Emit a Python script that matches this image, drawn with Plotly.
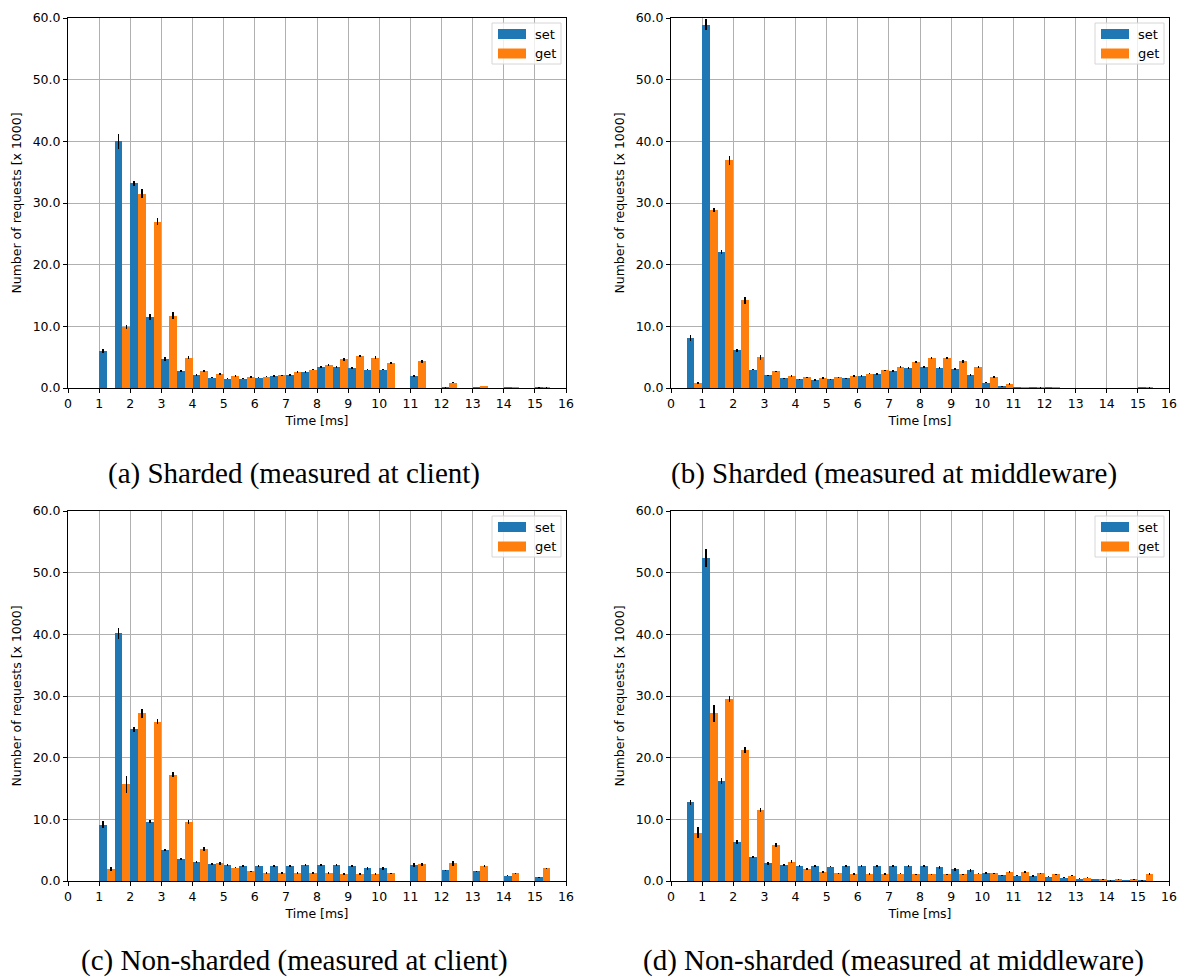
import plotly.graph_objects as go

# Histogram bin starts (0.5 ms bins from 0 to 16 ms)
bin_starts = [i * 0.5 for i in range(32)]
bin_width = 0.5

# Request counts per bin [x 1000] and their standard deviations
a_set = [0, 0, 6.0, 40.0, 33.2, 11.5, 4.7, 2.8, 2.1, 1.7, 1.5, 1.5, 1.7, 1.95, 2.05, 2.6,
         3.4, 3.4, 3.3, 3.0, 3.0, 0, 2.0, 0, 0.05, 0, 0.03, 0, 0.05, 0, 0.1, 0]
a_get = [0, 0, 0, 9.9, 31.5, 27.0, 11.7, 4.9, 2.8, 2.3, 1.95, 1.8, 1.85, 2.05, 2.6, 3.0,
         3.7, 4.65, 5.2, 4.9, 4.1, 0, 4.3, 0, 0.85, 0, 0.3, 0, 0.15, 0, 0.1, 0]
a_set_err = [0, 0, 0.4, 1.2, 0.4, 0.45, 0.25, 0.15, 0.2, 0.1, 0.1, 0.1, 0.1, 0.15, 0.15, 0.15,
             0.2, 0.2, 0.15, 0.1, 0.1, 0, 0.15, 0, 0.05, 0, 0, 0, 0, 0, 0.05, 0]
a_get_err = [0, 0, 0, 0.3, 0.7, 0.6, 0.55, 0.25, 0.15, 0.15, 0.1, 0.1, 0.1, 0.1, 0.1, 0.1,
             0.15, 0.2, 0.15, 0.25, 0.15, 0, 0.2, 0, 0.1, 0, 0.05, 0, 0.05, 0, 0.05, 0]

b_set = [0, 8.1, 58.9, 22.0, 6.1, 3.0, 2.05, 1.6, 1.4, 1.3, 1.4, 1.6, 1.95, 2.3, 2.75, 3.25,
         3.4, 3.25, 3.1, 2.1, 0.85, 0.25, 0.05, 0.02, 0.02, 0, 0, 0, 0, 0, 0.03, 0]
b_get = [0, 0.8, 28.9, 36.9, 14.2, 5.0, 2.7, 1.95, 1.75, 1.6, 1.75, 1.95, 2.3, 2.9, 3.4, 4.2,
         4.9, 4.9, 4.3, 3.4, 1.8, 0.65, 0.15, 0.1, 0.02, 0, 0, 0, 0, 0, 0.1, 0]
b_set_err = [0, 0.5, 0.9, 0.35, 0.3, 0.1, 0.1, 0.1, 0.1, 0.1, 0.1, 0.1, 0.1, 0.15, 0.2, 0.15,
             0.15, 0.15, 0.1, 0.1, 0.1, 0.05, 0.02, 0, 0, 0, 0, 0, 0, 0, 0.02, 0]
b_get_err = [0, 0.2, 0.35, 0.8, 0.6, 0.4, 0.1, 0.15, 0.1, 0.2, 0.1, 0.1, 0.1, 0.1, 0.1, 0.1,
             0.15, 0.15, 0.2, 0.2, 0.1, 0.1, 0.05, 0.05, 0, 0, 0, 0, 0, 0, 0.05, 0]

c_set = [0, 0, 9.1, 40.2, 24.6, 9.6, 5.0, 3.6, 3.1, 2.75, 2.6, 2.45, 2.45, 2.45, 2.45, 2.6,
         2.6, 2.55, 2.45, 2.05, 2.05, 0, 2.55, 0, 1.75, 0, 1.55, 0, 0.85, 0, 0.6, 0]
c_get = [0, 0, 1.95, 15.7, 27.2, 25.8, 17.2, 9.6, 5.2, 2.9, 2.15, 1.6, 1.3, 1.3, 1.3, 1.3,
         1.3, 1.15, 1.15, 1.15, 1.25, 0, 2.7, 0, 2.9, 0, 2.4, 0, 1.25, 0, 2.05, 0]
c_set_err = [0, 0, 0.55, 0.9, 0.4, 0.25, 0.2, 0.2, 0.15, 0.15, 0.15, 0.15, 0.1, 0.1, 0.1, 0.15,
             0.15, 0.15, 0.1, 0.25, 0.25, 0, 0.3, 0, 0.1, 0, 0.1, 0, 0.1, 0, 0.05, 0]
c_get_err = [0, 0, 0.35, 1.35, 0.7, 0.4, 0.4, 0.35, 0.35, 0.25, 0.1, 0.1, 0.1, 0.1, 0.1, 0.1,
             0.1, 0.1, 0.1, 0.1, 0.1, 0, 0.3, 0, 0.4, 0, 0.15, 0, 0.1, 0, 0.1, 0]

d_set = [0, 12.8, 52.4, 16.2, 6.3, 3.9, 2.9, 2.65, 2.45, 2.45, 2.3, 2.45, 2.45, 2.45, 2.45, 2.4,
         2.4, 2.2, 1.9, 1.75, 1.25, 0.9, 0.85, 0.8, 0.7, 0.55, 0.4, 0.3, 0.1, 0.02, 0.1, 0]
d_get = [0, 7.8, 27.2, 29.5, 21.2, 11.5, 5.85, 3.1, 1.95, 1.45, 1.25, 1.15, 1.15, 1.15, 1.2, 1.1,
         1.1, 1.1, 1.1, 1.2, 1.25, 1.4, 1.4, 1.25, 1.1, 0.85, 0.55, 0.25, 0.25, 0.25, 1.1, 0]
d_set_err = [0, 0.4, 1.5, 0.5, 0.3, 0.2, 0.25, 0.15, 0.15, 0.1, 0.1, 0.1, 0.1, 0.1, 0.1, 0.15,
             0.15, 0.2, 0.25, 0.25, 0.15, 0.1, 0.1, 0.1, 0.1, 0.1, 0.05, 0.05, 0.05, 0, 0.05, 0]
d_get_err = [0, 0.9, 1.35, 0.45, 0.45, 0.35, 0.3, 0.25, 0.15, 0.1, 0.1, 0.1, 0.1, 0.1, 0.1, 0.1,
             0.1, 0.1, 0.1, 0.1, 0.1, 0.15, 0.15, 0.1, 0.1, 0.1, 0.05, 0.05, 0.05, 0.05, 0.15, 0]

captions = [
    "(a) Sharded (measured at client)",
    "(b) Sharded (measured at middleware)",
    "(c) Non-sharded (measured at client)",
    "(d) Non-sharded (measured at middleware)",
]
series_names = ["set", "get"]
x_ticks = list(range(17))
y_ticks = [0, 10, 20, 30, 40, 50, 60]

BLUE = "#1f77b4"
ORANGE = "#ff7f0e"
W, H = 1178, 979

panels = [
    (a_set, a_get, a_set_err, a_get_err),
    (b_set, b_get, b_set_err, b_get_err),
    (c_set, c_get, c_set_err, c_get_err),
    (d_set, d_get, d_set_err, d_get_err),
]

# axes boxes in pixels: (left, right, top, bottom)
boxes = [(68, 566, 18, 388), (671, 1169, 18, 388), (68, 566, 511, 881), (671, 1169, 511, 881)]
# caption anchor points (center x, bottom of text box y)
caption_pos = [(294, 492), (894, 492), (294, 979), (894, 979)]


def px(xp):
    return xp / W


def py(yp):
    return 1 - yp / H


fig = go.Figure()
shapes = []
annotations = []
tick_font = dict(family="DejaVu Sans", size=12.5, color="black")
label_font = dict(family="DejaVu Sans", size=12.5, color="black")

for i, ((s, g, se, ge), (l, r, t, b)) in enumerate(zip(panels, boxes)):
    n = i + 1
    xa = "x" if n == 1 else f"x{n}"
    ya = "y" if n == 1 else f"y{n}"
    bw = bin_width / 2
    fig.add_trace(go.Bar(
        x=[x0 + bw / 2 for x0 in bin_starts], y=s, width=bw, name="set",
        marker=dict(color=BLUE, line=dict(width=0)),
        error_y=dict(type="data", array=se, color="black", thickness=1.6, width=0),
        xaxis=xa, yaxis=ya, showlegend=False,
    ))
    fig.add_trace(go.Bar(
        x=[x0 + bw * 1.5 for x0 in bin_starts], y=g, width=bw, name="get",
        marker=dict(color=ORANGE, line=dict(width=0)),
        error_y=dict(type="data", array=ge, color="black", thickness=1.6, width=0),
        xaxis=xa, yaxis=ya, showlegend=False,
    ))
    xkey = "xaxis" if n == 1 else f"xaxis{n}"
    ykey = "yaxis" if n == 1 else f"yaxis{n}"
    fig.update_layout({
        xkey: dict(
            domain=[l / W, r / W], anchor=ya, range=[0, 16],
            tickmode="array", tickvals=x_ticks, ticktext=[str(v) for v in x_ticks],
            ticks="outside", ticklen=4, tickcolor="black", tickwidth=1,
            showline=True, linecolor="black", linewidth=1, mirror=True,
            showgrid=True, gridcolor="#b0b0b0", gridwidth=0.8, zeroline=False,
            tickfont=tick_font, automargin=False,
            title=dict(text="Time [ms]", font=label_font, standoff=6),
        ),
        ykey: dict(
            domain=[1 - b / H, 1 - t / H], anchor=xa, range=[0, 60],
            tickmode="array", tickvals=y_ticks, ticktext=[f"{v:.1f}" for v in y_ticks],
            ticks="outside", ticklen=4, tickcolor="black", tickwidth=1,
            showline=True, linecolor="black", linewidth=1, mirror=True,
            showgrid=True, gridcolor="#b0b0b0", gridwidth=0.8, zeroline=False,
            tickfont=tick_font, automargin=False,
            title=dict(text="Number of requests [x 1000]", font=label_font, standoff=8),
        ),
    })

    # legend box in the upper-right corner of each panel
    shapes.append(dict(type="rect", xref="paper", yref="paper",
                       x0=px(r - 74), x1=px(r - 5), y0=py(t + 46), y1=py(t + 5),
                       line=dict(color="#d6d6d6", width=1), fillcolor="rgba(255,255,255,0.8)"))
    for k, (name, col) in enumerate(zip(series_names, [BLUE, ORANGE])):
        cy = t + 16 + k * 19.5
        shapes.append(dict(type="rect", xref="paper", yref="paper",
                           x0=px(r - 68), x1=px(r - 40), y0=py(cy + 5), y1=py(cy - 5),
                           line=dict(width=0), fillcolor=col))
        annotations.append(dict(text=name, xref="paper", yref="paper", x=px(r - 33), y=py(cy),
                                xanchor="left", yanchor="middle", showarrow=False,
                                font=dict(family="DejaVu Sans", size=13, color="black")))

for cap, (cx, cy) in zip(captions, caption_pos):
    annotations.append(dict(text=cap, xref="paper", yref="paper", x=px(cx), y=py(cy),
                            xanchor="center", yanchor="bottom", showarrow=False,
                            font=dict(family="Liberation Serif", size=29, color="black")))

fig.update_layout(
    width=W, height=H, margin=dict(l=0, r=0, t=0, b=0, pad=0, autoexpand=False),
    paper_bgcolor="white", plot_bgcolor="white",
    barmode="overlay", bargap=0,
    shapes=shapes, annotations=annotations,
    showlegend=False,
)

fig.write_html("out.html")
